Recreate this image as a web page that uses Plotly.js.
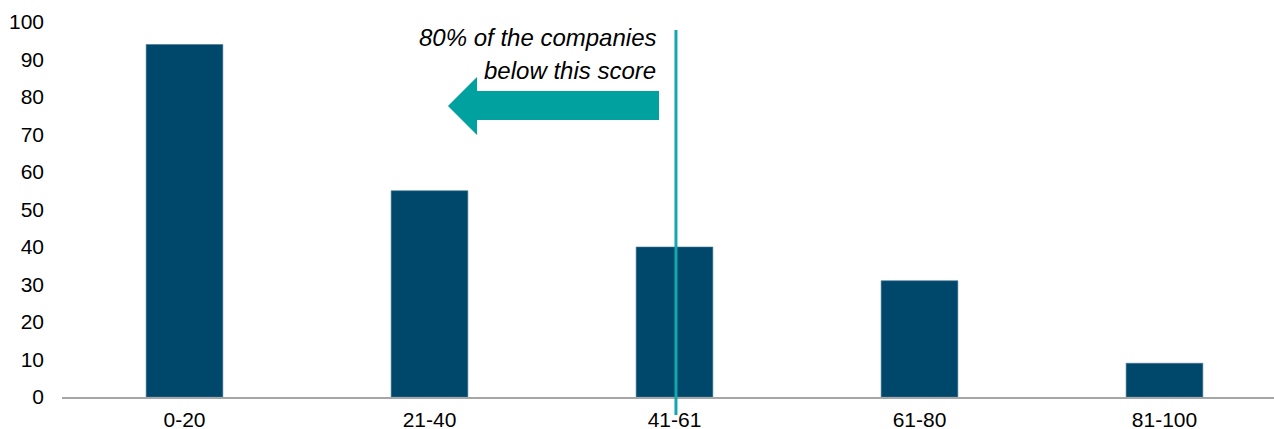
<!DOCTYPE html>
<html>
<head>
<meta charset="utf-8">
<script src="https://cdn.plot.ly/plotly-3.0.1.min.js"></script>
<style>html,body{margin:0;padding:0;background:#fff;}#chart{width:1274px;height:429px;}</style>
</head>
<body>
<div id="chart"></div>
<script>
const categories = ['0-20', '21-40', '41-61', '61-80', '81-100'];
const companies = [94, 55, 40, 31, 9];
const yTicks = [0, 10, 20, 30, 40, 50, 60, 70, 80, 90, 100];
const noteLines = ['80% of the companies', 'below this score'];
const thresholdCategoryPos = 2.006;

const W = 1274, H = 429;
const M = {l: 62, r: 0, t: 22, b: 32};
const xRange = [-0.5, 4.447];
const pw = W - M.l - M.r, ph = H - M.t - M.b;
const px = x => (x - M.l) / pw;
const py = y => (H - M.b - y) / ph;
const teal = '#00A19F';
const lineX = (thresholdCategoryPos - xRange[0]) / (xRange[1] - xRange[0]);

const arrowPts = [[448,106],[477,77],[477,91],[659,91],[659,120],[477,120],[477,135]];
const arrowPath = 'M ' + arrowPts.map(p => px(p[0]).toFixed(5) + ',' + py(p[1]).toFixed(5)).join(' L ') + ' Z';

const data = [{
  type: 'bar',
  x: categories,
  y: companies,
  width: 0.313,
  marker: {color: '#00486B', line: {color: '#3f7591', width: 0.6}},
  hoverinfo: 'x+y'
}];

const font = {family: 'Liberation Sans, Arial, sans-serif', size: 21, color: '#000'};
const noteFont = {family: 'Liberation Sans, Arial, sans-serif', size: 24, color: '#000'};

const layout = {
  width: W, height: H,
  margin: M,
  paper_bgcolor: '#fff', plot_bgcolor: '#fff',
  showlegend: false,
  font: font,
  xaxis: {
    type: 'category', range: xRange, showgrid: false, zeroline: false,
    showline: true, linecolor: '#A6A6A6', linewidth: 2,
    ticks: '', ticklabelstandoff: 3, tickfont: font, fixedrange: true
  },
  yaxis: {
    range: [0, 100], tickvals: yTicks, ticktext: yTicks.map(String),
    showgrid: false, zeroline: false, showline: false, ticks: '',
    ticklabelstandoff: 17, tickfont: font, fixedrange: true
  },
  shapes: [
    {type: 'line', xref: 'paper', yref: 'paper', x0: lineX, x1: lineX, y0: py(30), y1: py(415),
     line: {color: '#14A8AE', width: 3}, layer: 'above'},
    {type: 'path', xref: 'paper', yref: 'paper', path: arrowPath, fillcolor: teal, line: {width: 0}, layer: 'above'}
  ],
  annotations: [
    {xref: 'paper', yref: 'paper', x: px(658), y: py(38), xanchor: 'right', yanchor: 'middle', showarrow: false,
     text: '<i>' + noteLines[0] + '</i>', font: noteFont},
    {xref: 'paper', yref: 'paper', x: px(658), y: py(70), xanchor: 'right', yanchor: 'middle', showarrow: false,
     text: '<i>' + noteLines[1] + '</i>', font: noteFont}
  ]
};

Plotly.newPlot('chart', data, layout, {displayModeBar: false, staticPlot: true});
</script>
</body>
</html>
